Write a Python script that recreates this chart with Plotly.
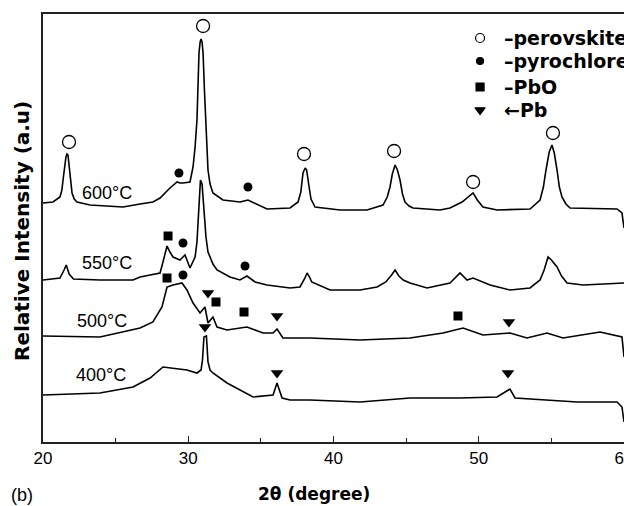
import plotly.graph_objects as go

# ---------------- data (2theta in degrees, intensity in arbitrary units) ----------------
tt_600 = [20.00, 20.69, 21.17, 21.30, 21.38, 21.50, 21.58, 21.65, 21.72, 21.80, 21.86, 21.93,
          22.00, 22.15, 22.34, 23.24, 25.51, 26.68, 27.37, 27.57, 28.06, 28.40, 28.74, 29.23,
          29.43, 29.64, 30.12, 30.33, 30.47, 30.60, 30.74, 30.82, 30.88, 30.95, 31.02, 31.12,
          31.22, 31.36, 31.50, 31.70, 32.39, 33.56, 34.11, 35.42, 37.01, 37.56, 37.75, 37.90,
          38.05, 38.15, 38.30, 38.45, 38.73, 40.45, 42.31, 43.41, 43.70, 43.89, 44.05, 44.24,
          44.40, 44.58, 44.75, 44.92, 45.20, 45.47, 47.33, 48.02, 48.85, 49.20, 49.61, 49.90,
          50.29, 51.26, 53.53, 54.22, 54.45, 54.63, 54.85, 55.04, 55.20, 55.39, 55.55, 55.73,
          56.00, 56.29, 58.15, 59.52, 59.86, 60.00]
int_600 = [239, 240, 245, 252, 262, 280, 285, 288, 287, 276, 269, 256,
           249, 243, 240, 237, 235, 238, 239, 240, 244, 249, 254, 260,
           259, 259, 260, 275, 295, 322, 389, 400, 403, 400, 389, 350,
           322, 272, 258, 249, 242, 240, 242, 233, 234, 240, 250, 269,
           274, 272, 257, 243, 235, 232, 232, 237, 245, 255, 268, 277,
           272, 262, 248, 240, 236, 234, 232, 234, 240, 244, 249, 242,
           235, 232, 233, 242, 255, 272, 290, 297, 289, 272, 255, 245,
           238, 234, 233, 233, 229, 214]

tt_550 = [20.00, 21.17, 21.45, 21.60, 21.80, 22.10, 23.92, 26.20, 26.68, 28.06, 28.26, 28.54,
          28.74, 28.95, 29.43, 29.78, 30.12, 30.47, 30.60, 30.74, 30.84, 30.95, 31.08, 31.22,
          31.36, 31.50, 31.70, 31.98, 32.87, 33.56, 34.04, 34.60, 35.42, 37.01, 37.69, 38.00,
          38.18, 38.35, 38.50, 39.76, 41.83, 43.00, 43.60, 44.00, 44.24, 44.50, 44.80, 45.27,
          46.44, 48.02, 48.40, 48.71, 49.19, 49.61, 50.78, 52.15, 53.53, 54.22, 54.50, 54.77,
          55.00, 55.39, 55.70, 56.08, 57.18, 59.93, 60.00]
int_550 = [162, 164, 172, 177, 168, 163, 162, 162, 165, 169, 180, 196,
           190, 185, 182, 187, 174, 185, 200, 245, 262, 258, 235, 205,
           190, 185, 178, 172, 165, 162, 166, 160, 157, 154, 155, 163,
           169, 165, 160, 152, 152, 155, 160, 167, 172, 166, 162, 159,
           154, 159, 164, 169, 162, 164, 157, 152, 154, 162, 172, 185,
           182, 175, 166, 159, 157, 159, 159]

tt_500 = [20.00, 23.92, 26.68, 27.57, 28.19, 28.54, 28.95, 29.57, 29.91, 30.33, 30.81, 31.15,
          31.36, 31.70, 31.98, 32.67, 34.04, 35.15, 35.84, 36.11, 36.52, 37.01, 38.38, 41.83,
          45.27, 47.54, 48.92, 50.29, 52.15, 53.32, 54.70, 55.80, 57.18, 58.35, 59.86, 60.00]
int_500 = [106, 105, 114, 120, 135, 155, 157, 159, 152, 139, 129, 135,
           119, 125, 115, 112, 115, 109, 109, 113, 104, 104, 104, 102,
           104, 109, 114, 107, 109, 104, 109, 104, 107, 110, 105, 85]

tt_400 = [20.00, 23.92, 26.20, 27.37, 28.26, 28.95, 29.91, 30.60, 30.88, 30.98, 31.08, 31.25,
          31.36, 31.50, 31.70, 32.67, 33.56, 34.46, 35.84, 36.11, 36.46, 37.01, 38.38, 41.83,
          45.27, 48.71, 51.26, 52.15, 52.50, 54.43, 56.77, 59.52, 59.86, 60.00]
int_400 = [47, 49, 55, 64, 75, 74, 72, 69, 72, 82, 105, 106,
           80, 72, 69, 59, 52, 45, 47, 59, 44, 42, 42, 40,
           44, 44, 45, 53, 44, 42, 40, 40, 35, 20]

# phase markers (2theta, intensity)
perovskite_tt = [21.79, 31.02, 37.97, 44.17, 49.61, 55.11]
perovskite_int = [300, 416, 288, 291, 260, 309]
pyrochlore_tt = [29.36, 34.11, 29.64, 33.91, 29.64]
pyrochlore_int = [269, 255, 199, 176, 167]
pbo_tt = [28.61, 28.54, 31.91, 33.84, 48.57]
pbo_int = [206, 164, 140, 130, 126]
pb_tt = [31.36, 36.11, 52.08, 31.15, 36.11, 52.01]
pb_int = [149, 126, 120, 115, 69, 69]

temps = ["600°C", "550°C", "500°C", "400°C"]
temp_label_tt = [24.44, 24.44, 24.06, 23.99]
temp_label_int = [249, 179, 121, 67]

legend_texts = ["–perovskite", "–pyrochlore", "–PbO", "←Pb"]
x_ticks = [20, 30, 40, 50, 60]
x_minor = [25, 35, 45, 55]

# ---------------- figure ----------------
fig = go.Figure()
line_style = dict(color="black", width=1.6)
for tt, iv in [(tt_600, int_600), (tt_550, int_550), (tt_500, int_500), (tt_400, int_400)]:
    fig.add_trace(go.Scatter(x=tt, y=iv, mode="lines", line=line_style, showlegend=False,
                             hoverinfo="skip"))

fig.add_trace(go.Scatter(x=perovskite_tt, y=perovskite_int, mode="markers", showlegend=False,
                         marker=dict(symbol="circle-open", size=13, color="black",
                                     line=dict(width=1.3, color="black")), cliponaxis=False))
fig.add_trace(go.Scatter(x=pyrochlore_tt, y=pyrochlore_int, mode="markers", showlegend=False,
                         marker=dict(symbol="circle", size=9, color="black"), cliponaxis=False))
fig.add_trace(go.Scatter(x=pbo_tt, y=pbo_int, mode="markers", showlegend=False,
                         marker=dict(symbol="square", size=9, color="black"), cliponaxis=False))
fig.add_trace(go.Scatter(x=pb_tt, y=pb_int, mode="markers", showlegend=False,
                         marker=dict(symbol="triangle-down", size=11, color="black"),
                         cliponaxis=False))

# custom legend (symbols + text)
leg_x = 50.09
leg_y = [404, 381, 355, 332]
leg_syms = ["circle-open", "circle", "square", "triangle-down"]
leg_sizes = [9, 7, 8, 9]
for yy, sym, sz in zip(leg_y, leg_syms, leg_sizes):
    fig.add_trace(go.Scatter(x=[leg_x], y=[yy], mode="markers", showlegend=False,
                             marker=dict(symbol=sym, size=sz, color="black",
                                         line=dict(width=1.2, color="black")),
                             cliponaxis=False))
for yy, txt in zip(leg_y, legend_texts):
    fig.add_annotation(x=51.60, y=yy, text=txt, showarrow=False, xanchor="left",
                       yanchor="middle",
                       font=dict(family="DejaVu Sans", size=19, color="black", weight="bold"))

for t, xx, yy in zip(temps, temp_label_tt, temp_label_int):
    fig.add_annotation(x=xx, y=yy, text=t, showarrow=False, xanchor="center", yanchor="middle",
                       font=dict(family="Liberation Sans", size=18, color="black"))

# axis titles and panel label
fig.add_annotation(xref="paper", yref="paper", x=0.4664, y=-0.1215, text="2θ (degree)",
                   showarrow=False, xanchor="center", yanchor="middle",
                   font=dict(family="DejaVu Sans", size=17, color="black", weight="bold"))
fig.add_annotation(xref="paper", yref="paper", x=-0.0361, y=0.493,
                   text="Relative Intensity (a.u)", textangle=-90, showarrow=False,
                   xanchor="center", yanchor="middle",
                   font=dict(family="DejaVu Sans", size=20, color="black", weight="bold"))
fig.add_annotation(xref="paper", yref="paper", x=-0.037, y=-0.1238, text="(b)",
                   showarrow=False, xanchor="center", yanchor="middle",
                   font=dict(family="Liberation Sans", size=18, color="black"))

fig.update_xaxes(range=[20, 60], tickvals=x_ticks, ticktext=[str(v) for v in x_ticks],
                 ticks="inside", ticklen=6, tickwidth=1.3, tickcolor="#222",
                 ticklabeloverflow="allow", automargin=False,
                 minor=dict(tickvals=x_minor, ticks="inside", ticklen=4, tickcolor="#222",
                            tickwidth=1.2),
                 showline=True, linecolor="#222", linewidth=1.6, mirror=True,
                 showgrid=False, zeroline=False,
                 tickfont=dict(family="Liberation Sans", size=17, color="black"))
fig.update_yaxes(range=[0, 428], showticklabels=False, ticks="", showline=True,
                 linecolor="#222", linewidth=1.6, mirror=True, showgrid=False, zeroline=False,
                 automargin=False)

# the page has an 8px body margin, so the figure is 8px smaller and its margins shifted
fig.update_layout(width=624, height=498, margin=dict(l=35, r=8, t=6, b=64),
                  plot_bgcolor="white", paper_bgcolor="white", showlegend=False)

fig.write_html("out.html")
